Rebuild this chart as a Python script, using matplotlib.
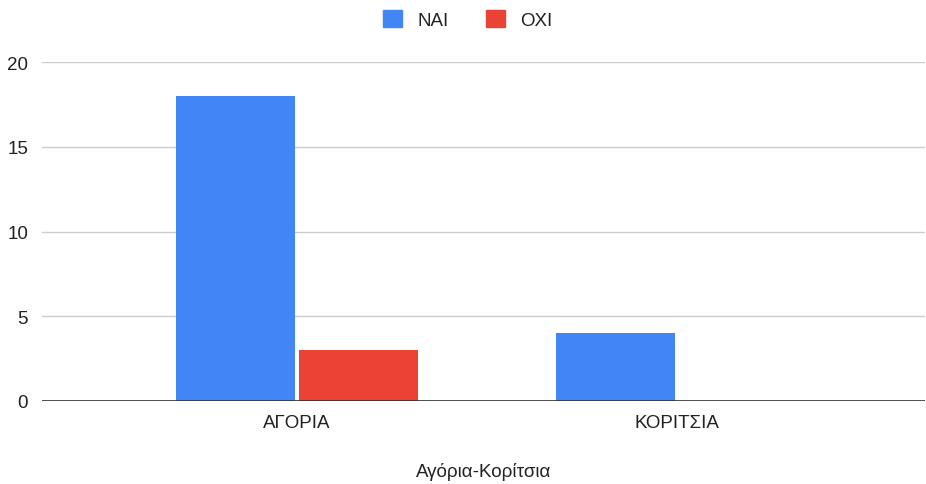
import matplotlib.pyplot as plt
import numpy as np
from matplotlib.patches import Patch

categories = ['ΑΓΟΡΙΑ', 'ΚΟΡΙΤΣΙΑ']
nai = [18, 4]
oxi = [3, 0]
series_names = ['ΝΑΙ', 'ΟΧΙ']

plt.rcParams['font.family'] = ['Liberation Sans', 'DejaVu Sans']

blue = '#4285f4'
red = '#ea4335'
fs = 13.5

fig = plt.figure(figsize=(9.26, 4.85), dpi=100)
ax = fig.add_axes([42 / 926, 1 - 402 / 485, (925 - 42) / 926, (402 - 63) / 485])

x = np.arange(len(categories))
w = 0.313
gap = 0.0105
ax.bar(x - w / 2 - gap / 2, nai, width=w, color=blue, zorder=3)
ax.bar(x + w / 2 + gap / 2, oxi, width=w, color=red, zorder=3)

ax.set_xlim(-0.671, 1.653)
ax.set_ylim(0, 20)
ax.set_yticks([0, 5, 10, 15, 20])
ax.set_xticks(x)
ax.set_xticklabels(categories)
ax.grid(axis='y', color='#cccccc', linewidth=1, zorder=0)
ax.axhline(0, color='#333333', linewidth=1.2, zorder=4)
for s in ax.spines.values():
    s.set_visible(False)
ax.tick_params(axis='both', length=0, labelsize=fs, colors='#222222')
ax.tick_params(axis='y', pad=10)
ax.tick_params(axis='x', pad=9)
ax.set_xlabel('Αγόρια-Κορίτσια', fontsize=fs, color='#222222', labelpad=23)

handles = [Patch(color=blue), Patch(color=red)]
fig.legend(handles, series_names, loc='upper center', bbox_to_anchor=(0.505, 1.012),
           ncol=2, frameon=False, fontsize=fs, handlelength=1.0, handleheight=1.0,
           columnspacing=2.0, handletextpad=0.8, labelcolor='#222222')

plt.savefig('out.png', dpi=100)
